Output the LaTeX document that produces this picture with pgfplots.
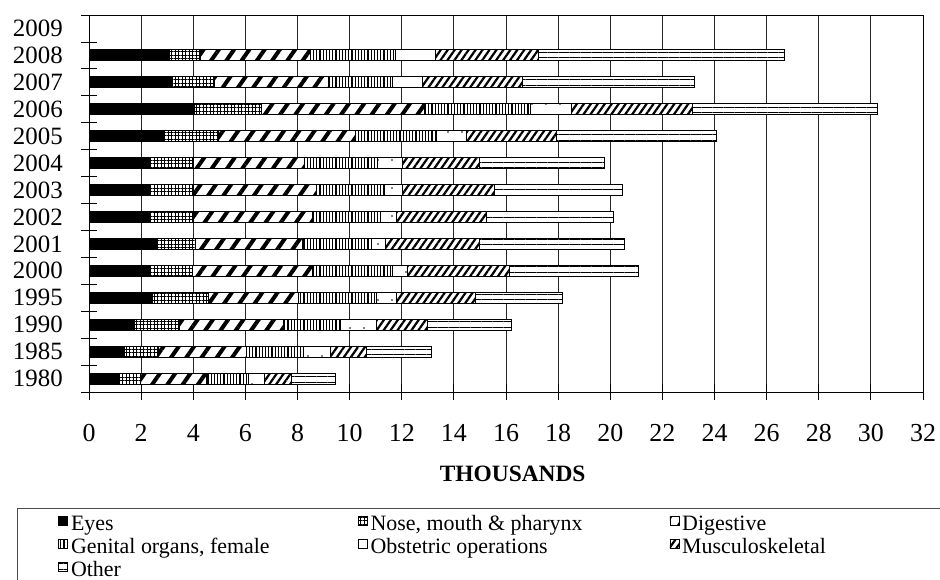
\documentclass[border=0pt]{standalone}
\usepackage{pgfplots}
\pgfplotsset{compat=1.18}
\usepackage{pgfplotstable}
\usepackage{fontspec}
\setmainfont{Liberation Serif}
\usetikzlibrary{patterns,patterns.meta}

\pgfplotstableread{
y eyes nose dig gen obs mus oth
0 1.11 0.87 2.52 1.60 0.64 1.02 1.70
1 1.37 1.28 3.38 2.18 1.05 1.40 2.49
2 1.75 1.70 3.99 2.20 1.38 1.98 3.22
3 2.43 2.17 3.42 3.00 0.79 3.02 3.32
4 2.33 1.63 4.63 3.07 0.54 3.93 4.95
5 2.61 1.48 4.09 2.65 0.55 3.60 5.56
6 2.33 1.66 4.60 2.58 0.62 3.47 4.87
7 2.33 1.68 4.71 2.62 0.70 3.52 4.89
8 2.33 1.68 4.26 2.79 0.96 2.96 4.79
9 2.84 2.11 5.28 3.09 1.15 3.48 6.11
10 4.03 2.60 6.22 4.09 1.56 4.64 7.12
11 3.20 1.62 4.35 2.49 1.15 3.81 6.61
12 3.07 1.21 4.22 3.26 1.53 3.96 9.43
}\data

\pgfplotsset{myleg/.style={legend image code/.code={\draw[##1,line width=0.6bp] (0bp,-1bp) rectangle (9bp,8bp);}}}

\tikzset{
 sEyes/.style={fill=black,draw=black},
 sNose/.style={fill=white,draw=black,postaction={pattern={Hatch[angle=0,distance=3.5bp,line width=0.7bp]}}},
 sDig/.style={fill=white,draw=black,postaction={pattern={Lines[angle=55,distance=12.5bp,line width=4bp]}}},
 sGen/.style={fill=white,draw=black,postaction={pattern={Lines[angle=90,distance=3.2bp,line width=1.2bp]}}},
 sObs/.style={fill=white,draw=black,postaction={pattern={Dots[distance=14bp,radius=0.9bp]}}},
 sMus/.style={fill=white,draw=black,postaction={pattern={Lines[angle=55,distance=5.7bp,line width=2.2bp]}}},
 sOth/.style={fill=white,draw=black,postaction={pattern={Lines[angle=0,distance=5.5bp,line width=0.9bp]}}},
}

\begin{document}
\begin{tikzpicture}
\useasboundingbox (0,0) rectangle (940bp,580bp);
\begin{axis}[
  at={(89bp,188bp)}, anchor=south west,
  scale only axis, width=834bp, height=377bp,
  xbar stacked, bar width=11bp,
  xmin=0, xmax=32, ymin=-0.5, ymax=13.5,
  xtick={0,2,...,32},
  xtick pos=bottom, ytick pos=left,
  xmajorgrids, grid style={black!85,line width=0.8bp},
  axis line style={black,line width=0.8bp},
  tick style={black,line width=0.8bp},
  tick align=center, major tick length=16bp,
  ytick={-0.5,0.5,...,13.5}, yticklabels={},
  extra y ticks={0,1,...,13},
  extra y tick labels={1980,1985,1990,1995,2000,2001,2002,2003,2004,2005,2006,2007,2008,2009},
  extra y tick style={major tick length=0pt, yticklabel style={inner sep=0pt, xshift=-26bp, font=\fontsize{25}{28}\selectfont}},
  /pgf/number format/assume math mode=true,
  xticklabel style={font=\fontsize{26}{28}\selectfont, inner sep=0pt, anchor=north, yshift=-24bp},
  xlabel={\textbf{THOUSANDS}},
  xlabel style={font=\fontsize{23.5}{26}\selectfont, at={(axis description cs:0.508,-0.1950)}, anchor=north, inner sep=0pt},
  every axis plot post/.append style={myleg, line width=0.8bp},
  legend columns=3,
  legend style={at={(axis description cs:-0.0863,-0.3077)}, anchor=north west,
    draw=black!70, line width=0.8bp, font=\fontsize{22}{24}\selectfont,
    inner xsep=41bp, inner ysep=6bp, row sep=2.5bp, cells={anchor=west},
    nodes={inner xsep=3bp, inner ysep=0bp, text height=16bp, text depth=4.5bp}},
]
\addplot[sEyes] table[x=eyes,y=y] \data;
\addplot[sNose] table[x=nose,y=y] \data;
\addplot[sDig] table[x=dig,y=y] \data;
\addplot[sGen] table[x=gen,y=y] \data;
\addplot[sObs] table[x=obs,y=y] \data;
\addplot[sMus] table[x=mus,y=y] \data;
\addplot[sOth] table[x=oth,y=y] \data;
\addlegendentry{\makebox[284bp][l]{Eyes}}
\addlegendentry{\makebox[296bp][l]{Nose, mouth \& pharynx}}
\addlegendentry{\makebox[300bp][l]{Digestive}}
\addlegendentry{Genital organs, female}
\addlegendentry{Obstetric operations}
\addlegendentry{Musculoskeletal}
\addlegendentry{Other}
\end{axis}
\end{tikzpicture}
\end{document}
